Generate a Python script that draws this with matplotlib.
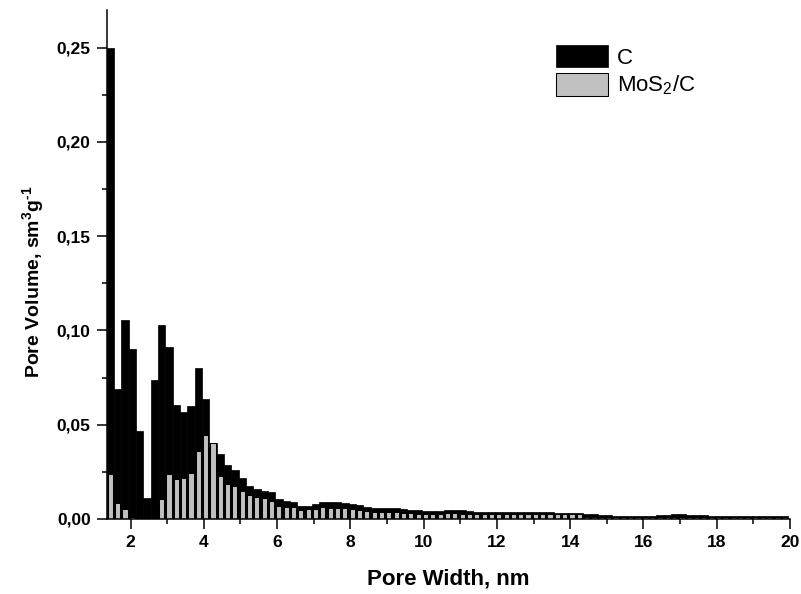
import numpy as np
import matplotlib
matplotlib.use("Agg")
import matplotlib.pyplot as plt
from matplotlib.ticker import MultipleLocator, FuncFormatter

plt.rcParams["font.family"] = ["Liberation Sans", "DejaVu Sans"]
plt.rcParams["mathtext.fontset"] = "custom"
plt.rcParams["mathtext.rm"] = "Liberation Sans"
plt.rcParams["mathtext.bf"] = "Liberation Sans:bold"

# pore volume per 0.2 nm bin, first bin centred at 1.45 nm
c_volume = [
    0.250, 0.0687, 0.1057, 0.0903, 0.0465, 0.0111, 0.0738, 0.1027, 0.0912, 0.0607,
    0.0565, 0.0600, 0.0802, 0.0634, 0.0404, 0.0345, 0.0288, 0.0260, 0.0218, 0.0175,
    0.0159, 0.0150, 0.0141, 0.0106, 0.0097, 0.0092, 0.0069, 0.0071, 0.0078, 0.0090,
    0.0090, 0.0088, 0.0087, 0.0081, 0.0072, 0.0065, 0.0060, 0.0058, 0.0057, 0.0056,
    0.0054, 0.0050, 0.0046, 0.0042, 0.0042, 0.0043, 0.0047, 0.0048, 0.0045, 0.0040,
    0.0038, 0.0038, 0.0037, 0.0037, 0.0036, 0.0036, 0.0036, 0.0035, 0.0035, 0.0035,
    0.0035, 0.0034, 0.0034, 0.0034, 0.0033,
    0.0024, 0.0024, 0.0023, 0.0023,
    0.0015, 0.0015, 0.0015, 0.0015, 0.0015, 0.0016,
    0.0023, 0.0023, 0.0024, 0.0024, 0.0023, 0.0023, 0.0022,
    0.0016, 0.0016, 0.0016, 0.0015, 0.0015, 0.0015, 0.0015, 0.0015, 0.0015, 0.0015, 0.0014,
]
mos2_volume = [
    0.0239, 0.0083, 0.0053, 0.0008, 0.0, 0.0, 0.0, 0.0104, 0.0239, 0.0214,
    0.0218, 0.0242, 0.0361, 0.0446, 0.0402, 0.0230, 0.0186, 0.0173, 0.0150, 0.0129,
    0.0118, 0.0111, 0.0097, 0.0071, 0.0064, 0.0062, 0.0046, 0.0051, 0.0055, 0.0065,
    0.0060, 0.0060, 0.0060, 0.0055, 0.0048, 0.0044, 0.0036, 0.0036, 0.0036, 0.0035,
    0.0034, 0.0031, 0.0029, 0.0027, 0.0027, 0.0028, 0.0030, 0.0030, 0.0028, 0.0026,
    0.0026, 0.0026, 0.0026, 0.0026, 0.0025, 0.0025, 0.0025, 0.0025, 0.0025, 0.0025,
    0.0024, 0.0024, 0.0024, 0.0024, 0.0024,
    0.0013, 0.0013, 0.0013, 0.0013,
    0.0009, 0.0009, 0.0009, 0.0009, 0.0009, 0.0009,
    0.0010, 0.0010, 0.0010, 0.0010, 0.0010, 0.0010, 0.0010,
    0.0009, 0.0009, 0.0009, 0.0009, 0.0009, 0.0009, 0.0009, 0.0009, 0.0009, 0.0009, 0.0009,
]
bin_start = 1.45
bin_step = 0.2
pore_width = bin_start + bin_step * np.arange(len(c_volume))

fig = plt.figure(figsize=(8.01, 5.94), dpi=100)
ax = fig.add_axes([0.1332, 0.1263, 0.8531, 0.857])

ax.bar(pore_width, c_volume, width=0.2, color="black", edgecolor="black",
       linewidth=0.5, label="C", zorder=2)
ax.bar(pore_width, mos2_volume, width=0.14, color="#c0c0c0", edgecolor="black",
       linewidth=0.75, label="MoS$_2$/C", zorder=3)

ax.set_xlim(1.35, 20)
ax.set_ylim(0, 0.27)

for side in ("top", "right"):
    ax.spines[side].set_visible(False)
for side in ("left", "bottom"):
    ax.spines[side].set_linewidth(1.1)
    ax.spines[side].set_zorder(5)

ax.xaxis.set_major_locator(MultipleLocator(2))
ax.xaxis.set_minor_locator(MultipleLocator(1))
ax.yaxis.set_major_locator(MultipleLocator(0.05))
ax.yaxis.set_minor_locator(MultipleLocator(0.025))
ax.yaxis.set_major_formatter(FuncFormatter(lambda v, p: f"{v:.2f}".replace(".", ",")))

ax.tick_params(which="major", direction="out", length=7.5, width=1.1, labelsize=12.5, pad=4)
ax.tick_params(which="minor", direction="out", length=3.8, width=1.1)
for lab in ax.get_xticklabels() + ax.get_yticklabels():
    lab.set_fontweight("bold")

ax.set_xlabel("Pore Width, nm", fontsize=16, fontweight="bold", labelpad=13)
ax.set_ylabel("Pore Volume, sm$^{\\mathbf{3}}$g$^{\\mathbf{\u2010 1}}$", fontsize=14,
              fontweight="bold", labelpad=7)
ax.yaxis.label.set_y(0.465)

ax.legend(loc="upper left", bbox_to_anchor=(0.6576, 0.931), frameon=False,
          fontsize=16, handlelength=2.34, handleheight=1.17, labelspacing=0.2,
          handletextpad=0.39, borderpad=0, borderaxespad=0)

fig.savefig("out.png", dpi=100)
